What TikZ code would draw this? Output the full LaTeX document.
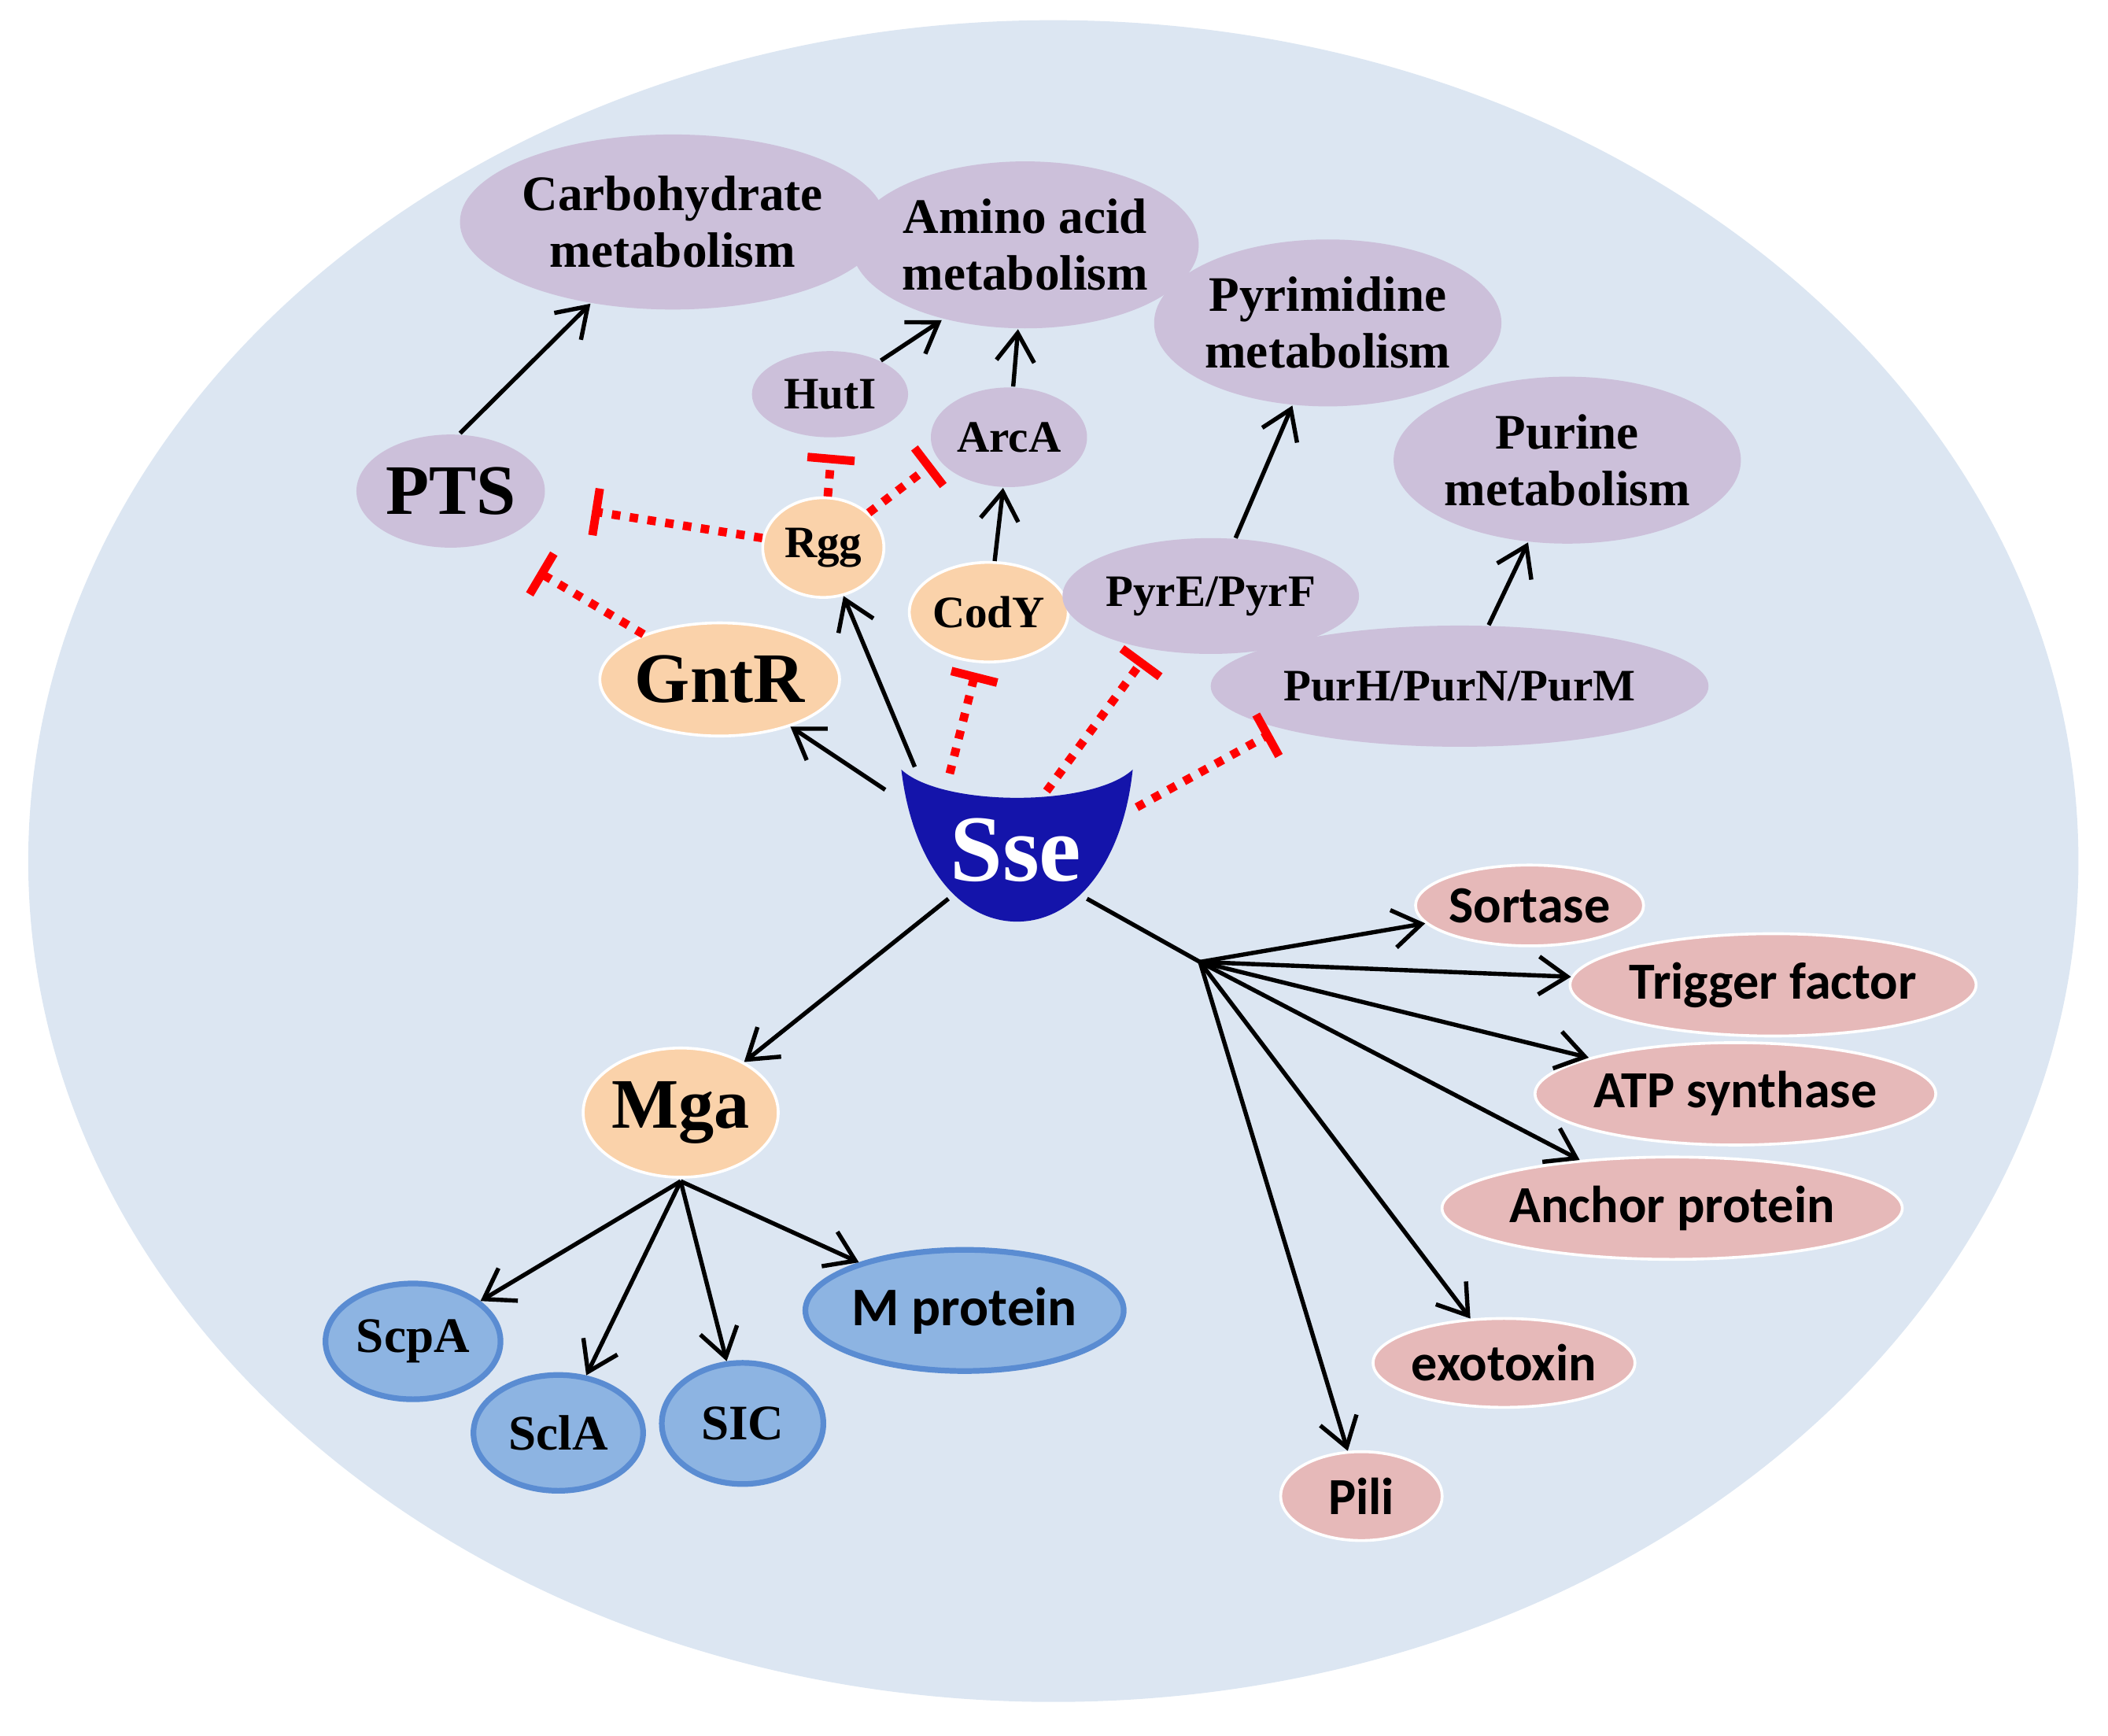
\documentclass[tikz,border=0pt]{standalone}
\usepackage{fontspec}
\setmainfont{Liberation Serif}
\newfontfamily\carl{Carlito}
\usetikzlibrary{shapes.geometric,arrows.meta}
\definecolor{bg}{RGB}{220,230,242}
\definecolor{pur}{RGB}{204,192,218}
\definecolor{pea}{RGB}{250,210,170}
\definecolor{pnk}{RGB}{230,185,185}
\definecolor{blu}{RGB}{141,180,226}
\definecolor{blub}{RGB}{90,140,210}
\definecolor{sse}{RGB}{20,20,170}
\tikzset{
 e/.style={ellipse,inner sep=0pt,font=\bfseries\fontsize{10.5}{12}\selectfont,align=center},
 pu/.style={e,fill=pur},
 pe/.style={e,fill=pea,draw=white,line width=0.6pt},
 pk/.style={e,fill=pnk,draw=white,line width=0.6pt,font=\carl\bfseries\fontsize{11}{12}\selectfont},
 bl/.style={e,fill=blu,draw=blub,line width=1.2pt},
 ar/.style={-{Straight Barb[length=6pt,width=8pt]},line width=0.9pt},
 ln/.style={line width=0.9pt},
 inh/.style={-{Bar[width=10pt]},red,dotted,line width=1.8pt}
}
\begin{document}
\begin{tikzpicture}[x=0.01cm,y=-0.01cm]
\useasboundingbox (0,0) rectangle (1567,1290);
\fill[bg] (783,640) ellipse [x radius=762,y radius=625];
\newcommand{\E}[6]{\node[#1,minimum width=#4*0.02cm,minimum height=#5*0.02cm] (#6) at (#2,#3)}
\E{pu}{500}{165}{122}{65}{carb} {Carbohydrate\\metabolism};
\E{pu}{762}{182}{108}{62}{amino} {Amino acid\\metabolism};
\E{pu}{987}{240}{107}{62}{pyr} {Pyrimidine\\metabolism};
\E{pu}{1165}{342}{107}{62}{pur} {Purine\\metabolism};
\E{pu}{617}{293}{58}{32}{hut} {\fontsize{9.5}{11}\selectfont HutI};
\E{pu}{750}{325}{58}{37}{arca} {\fontsize{9.5}{11}\selectfont ArcA};
\E{pu}{335}{365}{70}{42}{pts} {\fontsize{15}{17}\selectfont PTS};
\E{pe}{612}{407}{45}{37}{rgg} {\fontsize{9.5}{11}\selectfont Rgg};
\E{pe}{735}{455}{58}{37}{cody} {\fontsize{9.5}{11}\selectfont CodY};
\E{pu}{900}{443}{95}{43}{pyref} {\fontsize{9.5}{11}\selectfont PyrE/PyrF};
\E{pu}{1085}{510}{150}{45}{purh} {\fontsize{9.5}{11}\selectfont PurH/PurN/PurM};
\E{pe}{535}{505}{70}{42}{gntr} {\fontsize{15}{17}\selectfont GntR};
\E{pe}{506}{827}{70}{48}{mga} {\fontsize{15}{17}\selectfont Mga};
\E{pk}{1137}{673}{78}{30}{sort} {Sortase};
\E{pk}{1318}{732}{128}{38}{trig} {Trigger factor};
\E{pk}{1290}{813}{135}{38}{atp} {ATP synthase};
\E{pk}{1243}{898}{140}{38}{anch} {Anchor protein};
\E{pk}{1118}{1013}{78}{33}{exo} {exotoxin};
\E{pk}{1012}{1112}{60}{33}{pili} {Pili};
\E{bl}{307}{997}{65}{43}{scpa} {ScpA};
\E{bl}{415}{1065}{63}{43}{scla} {SclA};
\E{bl}{552}{1058}{60}{45}{sic} {SIC};
\E{bl}{717}{974}{98}{45}{mp} {\carl\bfseries\fontsize{11.5}{12}\selectfont M protein};
% Sse cup
\fill[sse] (670,572) .. controls (700,600) and (812,600) .. (842,572) .. controls (835,640) and (800,685) .. (756,685) .. controls (712,685) and (678,640) .. (670,572) -- cycle;
\node[text=white,font=\bfseries\fontsize{20}{22}\selectfont] (sse) at (755,632) {Sse};
\coordinate (sseA) at (680,570); \coordinate (sseB) at (658,587);
\coordinate (sseC) at (706,575); \coordinate (sseD) at (778,588);
\coordinate (sseE) at (845,600); \coordinate (sseF) at (705,668);
\coordinate (sseG) at (808,668); \coordinate (hub) at (892,715);
\coordinate (mhub) at (506,878);
% black arrows
\draw[ar] (342,322) -- (carb);
\draw[ar] (hut) -- (700,238);
\draw[ar] (arca) -- (amino);
\draw[ar] (cody) -- (arca);
\draw[ar] (sseA) -- (rgg);
\draw[ar] (sseB) -- (gntr);
\draw[ar] (pyref) -- (pyr);
\draw[ar] (purh) -- (pur);
\draw[ar] (sseF) -- (mga);
\draw[ln] (sseG) -- (hub);
\foreach \t in {sort,trig,atp,anch,exo,pili} \draw[ar] (hub) -- (\t);
\foreach \t in {scpa,scla,sic,mp} \draw[ar] (mhub) -- (\t);
% inhibitions
\draw[inh] (rgg) -- (440,380);
\draw[inh] (gntr) -- (400,425);
\draw[inh] (rgg) -- (618,338);
\draw[inh] (rgg) -- (693,345);
\draw[inh] (sseC) -- (725,500);
\draw[inh] (sseD) -- (850,490);
\draw[inh] (sseE) -- (945,545);
\end{tikzpicture}
\end{document}
